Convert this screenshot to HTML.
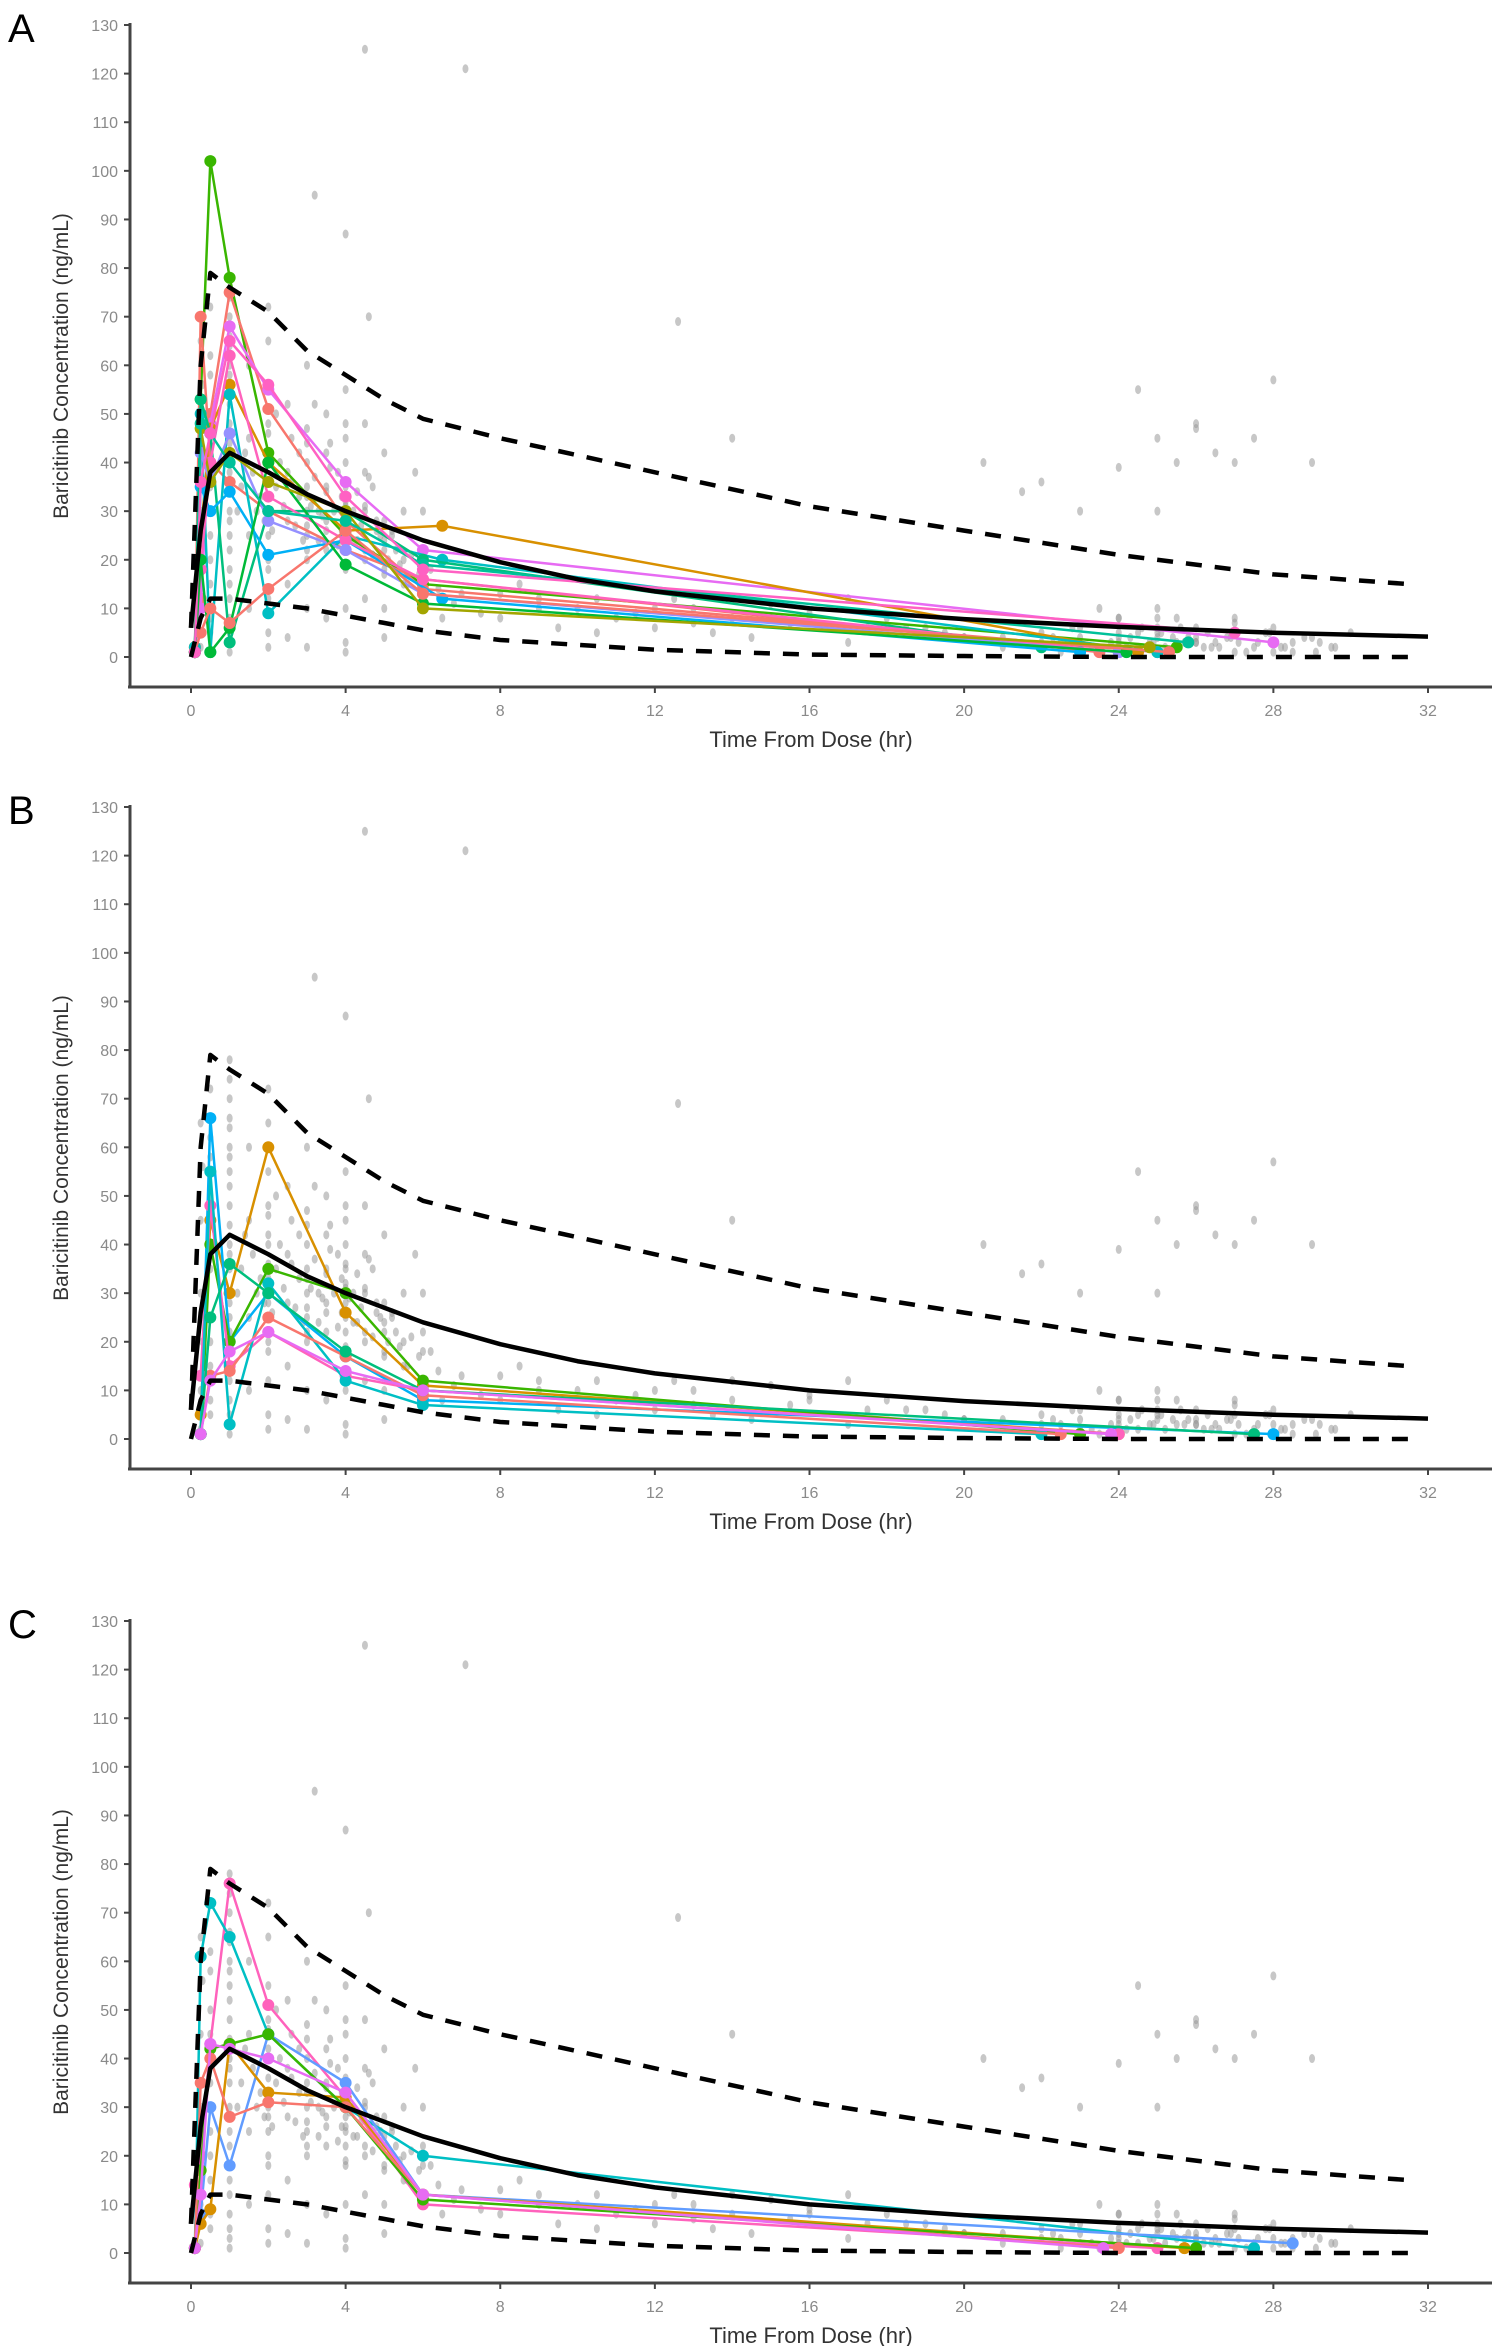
<!DOCTYPE html>
<html><head><meta charset="utf-8">
<style>
html,body{margin:0;padding:0;background:#fff;}
svg{display:block;font-family:"Liberation Sans",Arial,sans-serif;}
</style></head>
<body>
<svg id="chart" width="1499" height="2346" viewBox="0 0 1499 2346" xmlns="http://www.w3.org/2000/svg"></svg>
<script>
// ---- shared data ----
const xTicks = [0,4,8,12,16,20,24,28,32];
const yTicks = [0,10,20,30,40,50,60,70,80,90,100,110,120,130];
const medianT = [0,0.25,0.5,1,2,3,4,5,6,8,10,12,16,20,24,28,32];
const medianC = [6,26,38,42,38,33.5,30,27,24,19.5,16,13.5,10,7.8,6.2,5,4.2];
const upperT = [0,0.25,0.5,1,2,3,4,5,6,8,12,16,20,24,28,31.5];
const upperC = [6,60,79,76,71,63,58,53,49,45,38,31,26,21,17,15];
const lowerT = [0,0.25,0.5,1,2,3,4,6,8,12,16,20,24,28,31.5];
const lowerC = [0,8,12,12,11,10,8.5,5.5,3.5,1.5,0.5,0.2,0,0,0];
// observed concentrations as [time, conc] pairs
const obsPoints = [
[0.25,2],[0.25,10],[0.25,30],[0.25,45],[0.25,65],[0.3,56],[0.3,20],[0.5,5],[0.5,15],[0.5,25],[0.5,35],[0.5,50],[0.5,62],[0.5,72],
[0.5,8],[0.5,20],[0.5,40],[0.5,45],[0.5,58],[1,1],[1,3],[1,8],[1,15],[1,22],[1,28],[1,35],[1,40],[1,48],[1,55],[1,60],[1,64],[1,70],[1,74],[1,78],
[1,5],[1,12],[1,18],[1,25],[1,30],[1,38],[1,44],[1,52],[1,58],[1,66],[1.2,30],[1.3,35],[1.4,42],[1.5,10],[1.5,25],[1.5,45],[1.5,60],[1.6,38],[1.7,30],[1.8,33],[1.9,28],
[2,2],[2,5],[2,12],[2,18],[2,25],[2,30],[2,36],[2,42],[2,48],[2,55],[2,65],[2,72],[2,20],[2,28],[2,33],[2,40],[2,46],[2.1,26],[2.2,50],[2.2,35],[2.3,40],[2.4,31],
[2.5,4],[2.5,15],[2.5,28],[2.5,38],[2.5,52],[2.6,45],[2.6,36],[2.7,27],[2.8,33],[2.8,42],[2.9,24],
[3,2],[3,10],[3,20],[3,25],[3,30],[3,35],[3,40],[3,47],[3,60],[3,22],[3,27],[3,33],[3,44],[3.1,31],[3.2,52],[3.2,37],[3.3,30],[3.3,24],[3.4,29],
[3.5,8],[3.5,22],[3.5,28],[3.5,35],[3.5,42],[3.5,50],[3.5,34],[3.5,26],[3.6,44],[3.6,39],[3.7,30],[3.8,38],[3.8,23],[3.9,26],[3.9,33],
[4,1],[4,3],[4,10],[4,18],[4,22],[4,25],[4,28],[4,32],[4,36],[4,40],[4,45],[4,87],[4,19],[4,26],[4,31],[4,35],[4,48],[4,55],[4.1,29],[4.2,30],[4.2,24],[4.3,24],[4.3,34],[4.4,27],
[4.5,12],[4.5,20],[4.5,30],[4.5,38],[4.5,48],[4.5,22],[4.5,31],[4.6,70],[4.6,37],[4.7,35],[4.7,21],[4.8,26],[4.8,28],[4.9,25],
[5,4],[5,10],[5,18],[5,22],[5,28],[5,42],[5,17],[5,24],[5.1,20],[5.2,25],[5.2,26],[5.3,22],[5.4,19],[5.5,15],[5.5,20],[5.5,30],[5.6,15],[5.7,21],[5.8,38],[5.9,17],
[6,12],[6,18],[6,22],[6,30],[6,12],[6.2,18],[6.4,14],[6.5,8],[6.8,11],[7,13],[7.5,9],[8,8],[8,13],[8.5,15],[9,12],[9,10],[9.5,6],[10,10],[10.5,5],[10.5,12],
[11,8],[11.5,9],[12,6],[12,10],[12.5,12],[13,10],[13,7],[13.5,5],[14,8],[14,12],[14.5,4],[15,11],[15.5,7],[16,8],[16,9],[14,45],[17,3],[17,12],[17.5,6],
[18,8],[18.5,6],[19,6],[19.5,5],[20,4],[20,4],[20.5,40],[21,2],[21,4],[21.5,34],[22,3],[22,5],[22,36],[22.3,4],[22.5,1],[22.5,3],[22.8,6],
[23,6],[23,30],[23,2],[23,4],[23.3,2],[23.5,10],[23.5,1],[23.8,3],[24,4],[24,8],[24,39],[24,3],[24,5],[24,8],[24,2],[24.2,2],[24.3,4],[24.5,55],[24.5,2],[24.5,5],[24.6,6],[24.8,3],[24.9,3],
[25,10],[25,30],[25,4],[25,45],[25,6],[25,5],[25,8],[25.1,5],[25.2,2],[25.4,4],[25.5,8],[25.5,3],[25.5,40],[25.6,6],[25.7,3],[25.8,4],
[26,4],[26,48],[26,47],[26,3],[26,6],[26,3],[26.2,2],[26.3,5],[26.4,2],[26.5,42],[26.5,3],[26.6,2],[26.8,4],[26.9,4],
[27,1],[27,40],[27,5],[27,8],[27,7],[27.1,3],[27.3,1],[27.5,2],[27.5,45],[27.6,3],[27.8,5],[27.9,5],
[28,3],[28,1],[28,6],[28,57],[28.2,2],[28.3,2],[28.5,3],[28.5,1],[28.8,4],[29,4],[29,40],[29.1,1],[29.2,3],[29.5,2],[29.6,2],[30,5],
[4.5,125],[7.1,121],[3.2,95],[12.6,69]
];
// ---- individual profiles ----
const colorsA = ["#39B600","#F8766D","#E76BF3","#D89000","#F8766D","#00BFC4","#00BF7D","#00B0F6","#FF62BC","#9590FF","#00BA38","#F8766D","#A3A500","#00C19A","#FF61C3"];
const timesA = [[0.1,0.25,0.5,1,2,4,6,25.5],[0.1,0.25,0.5,1,2,4,6,25],[0.1,0.25,0.5,1,2,4,6,28],[0.1,0.25,0.5,1,2,4,6.5,24.5],[0.1,0.25,0.5,1,2,4,6,23.5],[0.1,0.25,0.5,1,2,4,6.5,25],[0.1,0.25,0.5,1,2,4,6,22],[0.1,0.25,0.5,1,2,4,6.5,23],[0.1,0.25,0.5,1,2,4,6,24],[0.1,0.25,0.5,1,2,4,6,24],[0.1,0.25,0.5,1,2,4,6,24.2],[0.1,0.25,0.5,1,2,4,6,25.3],[0.1,0.25,0.5,1,2,4,6,24.8],[0.1,0.25,0.5,1,2,4,6,25.8],[0.1,0.25,0.5,1,2,4,6,27]];
const concA = [[1,53,102,78,42,25,15,2],[2,12,50,75,51,28,14,1],[1,10,48,68,55,36,22,3],[2,25,47,56,40,26,27,1],[1,70,40,36,30,22,16,1],[2,50,1,54,9,25,20,1],[1,53,46,3,30,30,20,2],[1,35,30,34,21,24,12,1],[1,18,40,62,33,24,16,1],[1,42,36,46,28,22,13,1],[1,20,1,6,40,19,11,1],[1,5,10,7,14,26,13,1],[1,47,36,42,36,30,10,2],[1,48,46,40,30,28,19,3],[1,36,46,65,56,33,18,5]];
const colorsB = ["#D89000","#00B0F6","#39B600","#FF62BC","#00BFC4","#F8766D","#00BF7D","#E76BF3"];
const timesB = [[0.25,0.5,1,2,4,6,24],[0.25,0.5,1,2,4,6,28],[0.25,0.5,1,2,4,6,23],[0.25,0.5,1,2,4,6,24],[0.25,0.5,1,2,4,6,22],[0.25,0.5,1,2,4,6,22.5],[0.25,0.5,1,2,4,6,27.5],[0.25,0.5,1,2,4,6,23.8]];
const concB = [[5,45,30,60,26,11,1],[1,66,20,30,17,8,1],[1,40,20,35,30,12,1],[13,48,15,22,13,10,1],[1,55,3,32,12,7,1],[1,13,14,25,17,9,1],[1,25,36,30,18,10,1],[1,12,18,22,14,10,1]];
const colorsC = ["#FF62BC","#00BFC4","#619CFF","#D89000","#39B600","#F8766D","#E76BF3"];
const timesC = [[0.1,0.25,0.5,1,2,4,6,25],[0.1,0.25,0.5,1,2,4,6,27.5],[0.1,0.25,0.5,1,2,4,6,28.5],[0.1,0.25,0.5,1,2,4,6,25.7],[0.1,0.25,0.5,1,2,4,6,26],[0.1,0.25,0.5,1,2,4,6,24],[0.1,0.25,0.5,1,2,4,6,23.6]];
const concC = [[14,20,43,76,51,32,10,1],[1,61,72,65,45,30,20,1],[1,8,30,18,45,35,12,2],[1,6,9,43,33,32,12,1],[1,17,42,43,45,30,11,1],[1,35,40,28,31,30,12,1],[1,12,43,42,40,33,12,1]];

const NS = "http://www.w3.org/2000/svg";
const svg = document.getElementById('chart');
function mk(tag, attrs, parent){const e=document.createElementNS(NS,tag);for(const k in attrs)e.setAttribute(k,attrs[k]);(parent||svg).appendChild(e);return e;}

function panel(letter, top, colors, times, concs){
  const g = mk('g',{});
  
  
  const y0 = top + 632, yTop = top;
  const xS = t => 191 + t*(1428-191)/32;
  const yS = c => y0 - c*(y0-yTop)/130;
  const axisY = top + 662;
  const lt = mk('text',{x:8,y:top+17,'font-size':40,fill:'#000'},g);
  lt.textContent = letter;
  
  
  const ya = mk('line',{x1:130,y1:yTop-2,x2:130,y2:axisY,stroke:'#444','stroke-width':3},g);
  
  
  const xa = mk('line',{x1:128,y1:axisY,x2:1492,y2:axisY,stroke:'#444','stroke-width':3},g);
  
  
  yTicks.forEach(v=>{
    mk('line',{x1:124,y1:yS(v),x2:130,y2:yS(v),stroke:'#444','stroke-width':2},g);
    const t = mk('text',{x:118,y:yS(v)+6,'font-size':16,fill:'#8a8a8a','text-anchor':'end'},g);
    t.textContent = v;
    
    
  });
  xTicks.forEach(v=>{
    mk('line',{x1:xS(v),y1:axisY,x2:xS(v),y2:axisY+6,stroke:'#444','stroke-width':2},g);
    const t = mk('text',{x:xS(v),y:axisY+29,'font-size':16,fill:'#8a8a8a','text-anchor':'middle'},g);
    t.textContent = v;
    
    
  });
  const xt = mk('text',{x:811,y:axisY+60,'font-size':22,fill:'#333','text-anchor':'middle'},g);
  xt.textContent = 'Time From Dose (hr)';
  
  
  const yt = mk('text',{x:0,y:0,'font-size':21,fill:'#333','text-anchor':'middle',transform:`translate(68,${(yTop+axisY)/2+10}) rotate(-90)`},g);
  yt.textContent = 'Baricitinib Concentration (ng/mL)';
  
  
  obsPoints.forEach(p=>{
    const c = mk('ellipse',{cx:xS(p[0]),cy:yS(p[1]),rx:3,ry:4.5,fill:'#999','fill-opacity':0.55},g);
    
    
  });
  times.forEach((ts,j)=>{
    const pts = ts.map((t,i)=>xS(t)+','+yS(concs[j][i])).join(' ');
    const pl = mk('polyline',{points:pts,fill:'none',stroke:colors[j],'stroke-width':2.5},g);
    
    
    ts.forEach((t,i)=>{
      const c = mk('circle',{cx:xS(t),cy:yS(concs[j][i]),r:6,fill:colors[j]},g);
      
      
    });
  });
  const line = (T,C,dash,name)=>{
    const p = mk('polyline',{points:T.map((t,i)=>xS(t)+','+yS(C[i])).join(' '),fill:'none',stroke:'#000','stroke-width':4.5,'stroke-dasharray':dash,'stroke-linejoin':'round'},g);
    
    
  };
  line(upperT,upperC,'16 13','upper-95th-percentile-line');
  line(lowerT,lowerC,'16 13','lower-5th-percentile-line');
  line(medianT,medianC,'none','median-prediction-line');
}
panel('A', 25, colorsA, timesA, concA);
panel('B', 807, colorsB, timesB, concB);
panel('C', 1621, colorsC, timesC, concC);
</script>
</body></html>
